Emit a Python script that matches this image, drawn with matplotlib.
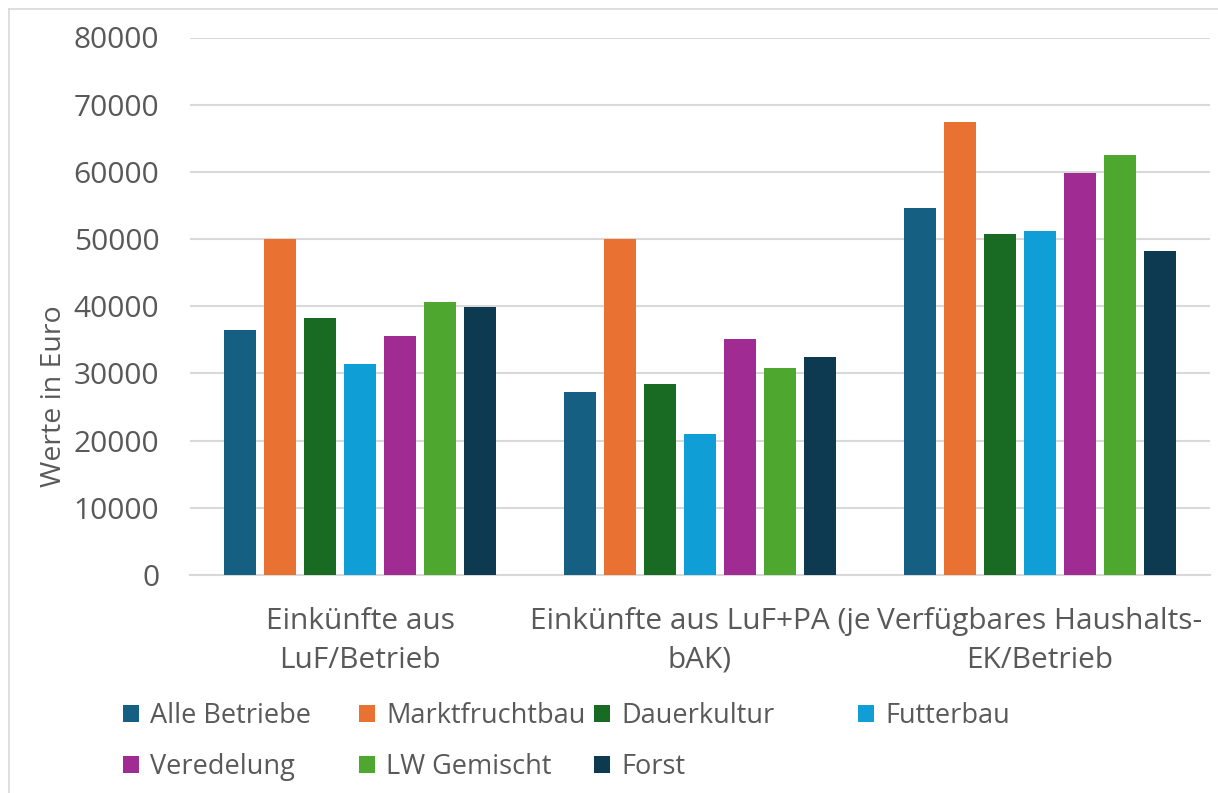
import matplotlib.pyplot as plt
import numpy as np
from matplotlib.lines import Line2D

plt.rcParams['font.family'] = ['Open Sans', 'DejaVu Sans']

categories = ['Einkünfte aus\nLuF/Betrieb', 'Einkünfte aus LuF+PA (je\nbAK)', 'Verfügbares Haushalts-\nEK/Betrieb']
series = ['Alle Betriebe', 'Marktfruchtbau', 'Dauerkultur', 'Futterbau', 'Veredelung', 'LW Gemischt', 'Forst']
alle_betriebe = [36500, 27200, 54550]
marktfruchtbau = [50000, 50000, 67450]
dauerkultur = [38300, 28400, 50800]
futterbau = [31350, 21050, 51250]
veredelung = [35550, 35200, 59850]
lw_gemischt = [40650, 30800, 62450]
forst = [39900, 32450, 48150]
y_ticks = [0, 10000, 20000, 30000, 40000, 50000, 60000, 70000, 80000]

colors = ['#156082', '#E97132', '#196B24', '#0F9ED5', '#A02B93', '#4EA72E', '#0E3A51']
text_color = '#595959'
grid_color = '#D9D9D9'

values = [alle_betriebe, marktfruchtbau, dauerkultur, futterbau, veredelung, lw_gemischt, forst]

W, H = 1218, 793
fig = plt.figure(figsize=(W / 100, H / 100), dpi=100)
ax = fig.add_axes([190 / W, 1 - 575 / H, 1020 / W, (575 - 37.5) / H])

x = np.arange(len(categories))
step = 40 / 340
width = 32 / 340
handles = []
for i, (name, vals) in enumerate(zip(series, values)):
    b = ax.bar(x + (i - 3) * step, vals, width, color=colors[i], label=name, zorder=3)
    handles.append(b)

ax.set_xlim(-0.5, 2.5)
ax.set_ylim(0, 80000)
ax.set_yticks(y_ticks)
ax.set_yticklabels([str(t) for t in y_ticks])
ax.set_xticks(x)
ax.set_xticklabels(categories, linespacing=1.45)
ax.tick_params(axis='both', length=0, colors=text_color, labelsize=21.5)
ax.tick_params(axis='y', pad=22)
ax.tick_params(axis='x', pad=23)
ax.grid(axis='y', color=grid_color, linewidth=1.5, zorder=0)
for side in ['top', 'right', 'left']:
    ax.spines[side].set_visible(False)
ax.spines['bottom'].set_color(grid_color)
ax.spines['bottom'].set_linewidth(1.5)
ax.set_ylabel('Werte in Euro', fontsize=20.5, color=text_color)
ax.yaxis.set_label_coords(68 / W, 0.5, transform=fig.transFigure)

# legend laid out row-wise, one small legend per column
col_x = [123, 359, 594, 858]
columns = [[0, 4], [1, 5], [2, 6], [3]]
for cx, idx in zip(col_x, columns):
    fig.legend([handles[i] for i in idx], [series[i] for i in idx],
               loc='upper left', bbox_to_anchor=(cx / W, 1 - 702 / H),
               frameon=False, fontsize=19.5, labelcolor=text_color,
               handlelength=0.6, handleheight=0.6, handletextpad=0.4,
               labelspacing=0.85, borderpad=0, borderaxespad=0)

# outer chart border (top and left visible)
fig.add_artist(Line2D([8.5 / W, 1], [1 - 8.5 / H, 1 - 8.5 / H], color=grid_color, linewidth=1.2, transform=fig.transFigure))
fig.add_artist(Line2D([8.5 / W, 8.5 / W], [0, 1 - 8.5 / H], color=grid_color, linewidth=1.2, transform=fig.transFigure))

fig.savefig('out.png', dpi=100)
